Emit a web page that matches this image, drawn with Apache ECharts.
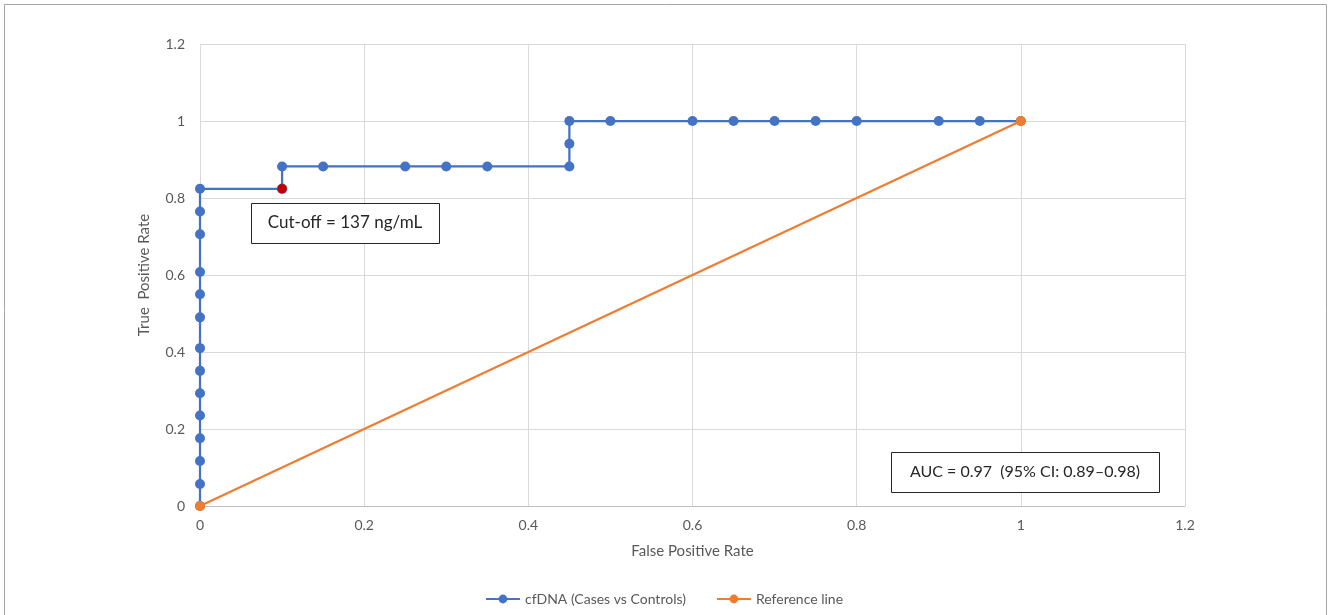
<!DOCTYPE html>
<html>
<head>
<meta charset="utf-8">
<script src="https://cdn.jsdelivr.net/npm/echarts@6/dist/echarts.min.js"></script>
<style>
html,body{margin:0;padding:0;background:#fff;}
#chart{width:1328px;height:615px;}
</style>
</head>
<body>
<div id="chart"></div>
<script>
var fpr = [0, 0, 0, 0, 0, 0, 0, 0, 0, 0, 0, 0, 0, 0, 0.1, 0.1, 0.15, 0.25, 0.3, 0.35, 0.45, 0.45, 0.45, 0.5, 0.6, 0.65, 0.7, 0.75, 0.8, 0.9, 0.95, 1];
var tpr = [0, 0.057, 0.117, 0.176, 0.235, 0.293, 0.351, 0.41, 0.49, 0.55, 0.608, 0.706, 0.765, 0.824, 0.824, 0.882, 0.882, 0.882, 0.882, 0.882, 0.882, 0.941, 1, 1, 1, 1, 1, 1, 1, 1, 1, 1];
var refX = [0, 1];
var refY = [0, 1];
var cutoffIndex = 14;
var xTicks = ['0', '0.2', '0.4', '0.6', '0.8', '1', '1.2'];
var seriesNames = ['cfDNA (Cases vs Controls)', 'Reference line'];

var blue = '#4472C4', orange = '#ED7D31', red = '#C00000';
var font = 'Lato';

var cfData = fpr.map(function (x, i) {
  var item = { value: [x, tpr[i]] };
  if (i === cutoffIndex) item.itemStyle = { color: red, borderColor: blue, borderWidth: 0.5 };
  return item;
});
var refData = refX.map(function (x, i) { return [x, refY[i]]; });

var chart = echarts.init(document.getElementById('chart'));
chart.setOption({
  animation: false,
  textStyle: { fontFamily: font },
  grid: { left: 200, right: 143, top: 44, bottom: 109 },
  xAxis: {
    type: 'value', min: 0, max: 1.2, interval: 0.2,
    name: 'False Positive Rate', nameLocation: 'middle', nameGap: 38,
    nameTextStyle: { color: '#595959', fontSize: 15, fontFamily: font },
    axisLine: { show: true, lineStyle: { color: '#bfbfbf' } },
    axisTick: { show: false },
    axisLabel: { color: '#595959', fontSize: 14, margin: 12,
      formatter: function (v) { return xTicks[Math.round(v / 0.2)]; } },
    splitLine: { show: true, lineStyle: { color: '#d9d9d9' } }
  },
  yAxis: {
    type: 'value', min: 0, max: 1.2, interval: 0.2,
    name: 'True  Positive Rate', nameLocation: 'middle', nameGap: 48,
    nameTextStyle: { color: '#595959', fontSize: 15, fontFamily: font },
    axisLine: { show: false },
    axisTick: { show: false },
    axisLabel: { color: '#595959', fontSize: 14, margin: 15,
      formatter: function (v) { return xTicks[Math.round(v / 0.2)]; } },
    splitLine: { show: true, lineStyle: { color: '#d9d9d9' } }
  },
  legend: {
    bottom: 4, left: 'center', itemGap: 30, itemWidth: 34, itemHeight: 11,
    textStyle: { color: '#595959', fontSize: 14, fontFamily: font },
    data: seriesNames
  },
  series: [
    {
      name: seriesNames[0], type: 'line', data: cfData,
      symbol: 'circle', symbolSize: 10,
      lineStyle: { color: blue, width: 2.25 },
      itemStyle: { color: blue },
      z: 3
    },
    {
      name: seriesNames[1], type: 'line', data: refData,
      symbol: 'circle', symbolSize: 10,
      lineStyle: { color: orange, width: 2.25 },
      itemStyle: { color: orange },
      z: 4
    }
  ],
  graphic: [
    { type: 'rect', shape: { x: 4.5, y: 4.5, width: 1322, height: 640 },
      style: { fill: 'none', stroke: '#a6a6a6', lineWidth: 1 }, silent: true },
    { type: 'rect', shape: { x: 251.5, y: 203.5, width: 188, height: 40 },
      style: { fill: '#fff', stroke: '#262626', lineWidth: 1 }, z: 10 },
    { type: 'text', x: 345, y: 223, z: 11,
      style: { text: 'Cut-off = 137 ng/mL', fill: '#262626', fontSize: 17, fontFamily: font, align: 'center', verticalAlign: 'middle' } },
    { type: 'rect', shape: { x: 891.5, y: 452.5, width: 268, height: 40 },
      style: { fill: '#fff', stroke: '#262626', lineWidth: 1 }, z: 10 },
    { type: 'text', x: 1025, y: 472, z: 11,
      style: { text: 'AUC = 0.97  (95% CI: 0.89\u20130.98)', fill: '#262626', fontSize: 16, fontFamily: font, align: 'center', verticalAlign: 'middle' } }
  ]
});
</script>
</body>
</html>
